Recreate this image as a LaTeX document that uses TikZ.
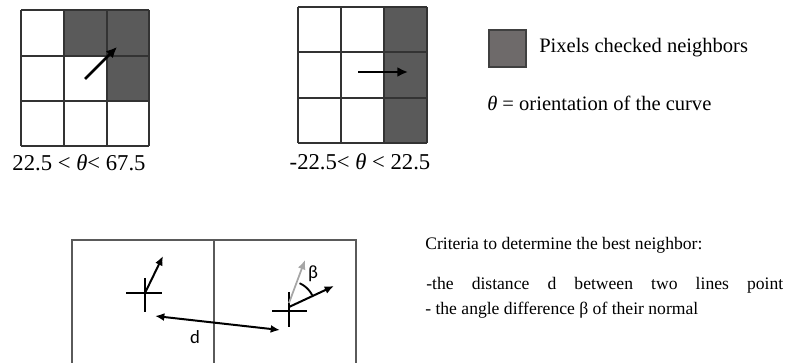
\documentclass[tikz,border=0pt]{standalone}
\usepackage{fontspec}
\setmainfont{Liberation Serif}
\newfontfamily\calib{Carlito}
\usetikzlibrary{arrows.meta}
\definecolor{cellgray}{HTML}{5A5A5A}
\definecolor{legfill}{HTML}{6E6A6A}
\definecolor{gridline}{HTML}{333333}
\definecolor{boxline}{HTML}{5A5A5A}
\tikzset{
  gridlines/.style={draw=gridline, line width=1.4pt},
  bigarrow/.style={line width=2pt, -{Latex[length=8pt,width=7.5pt]}},
  smallarrow/.style={line width=1.5pt, -{Latex[length=7pt,width=6pt]}},
  crossline/.style={line width=1.4pt},
  lbl/.style={inner sep=0pt, font=\fontsize{17}{20}\selectfont},
  legtxt/.style={inner sep=0pt, anchor=west, font=\fontsize{15.4}{18}\selectfont},
  crittxt/.style={inner sep=0pt, anchor=west, font=\fontsize{13.2}{16}\selectfont},
}
\begin{document}
\begin{tikzpicture}[x=0.75pt,y=-0.75pt]
\useasboundingbox (0,0) rectangle (785,363);
% grid 1
\fill[cellgray] (64,10) rectangle (149,56);
\fill[cellgray] (107,56) rectangle (149,101);
\foreach \x in {21,64,107,149} \draw[gridlines] (\x,10) -- (\x,146);
\foreach \y in {10,56,101,146} \draw[gridlines] (21,\y) -- (149,\y);
\coordinate (a1s) at (85,79);
\coordinate (a1e) at (117,47);
\draw[bigarrow] (a1s) -- (a1e);
\node[lbl] (lab1) at (79,163) {22.5 < \textit{θ}< 67.5};
% grid 2
\fill[cellgray] (384,7) rectangle (427,143);
\foreach \x in {298,341,384,427} \draw[gridlines] (\x,7) -- (\x,143);
\foreach \y in {7,52,98,143} \draw[gridlines] (298,\y) -- (427,\y);
\coordinate (a2s) at (358,72);
\coordinate (a2e) at (408,72);
\draw[bigarrow] (a2s) -- (a2e);
\node[lbl] (lab2) at (360,162) {-22.5< \textit{θ} < 22.5};
% legend
\node[draw=black!75, line width=1pt, fill=legfill, inner sep=0pt, minimum width=27.75pt, minimum height=27.75pt] (leg) at (507.5,48.5) {};
\node[legtxt] (legt) at (539,48) {Pixels checked neighbors};
\node[legtxt] (theta) at (487,103) {\textit{θ} = orientation of the curve};
% bottom box
\draw[draw=boxline, line width=1.1pt] (72,363) -- (72,240) -- (356,240) -- (356,363);
\draw[draw=boxline, line width=1.1pt] (214,240) -- (214,363);
% cross 1
\coordinate (c1) at (145,293);
\draw[crossline] (126,293) -- (162,293);
\draw[crossline] (145,278) -- (145,312);
\coordinate (n1) at (163,256);
\draw[smallarrow] (c1) -- (n1);
% cross 2
\coordinate (c2) at (289,309);
\draw[crossline] (272,311) -- (307,311);
\draw[crossline] (289,292) -- (289,327);
\coordinate (g2s) at (289,303);
\coordinate (g2e) at (305,260);
\draw[smallarrow, draw=black!35, line width=1.3pt] (g2s) -- (g2e);
\coordinate (b2s) at (289,307);
\coordinate (b2e) at (334,286);
\draw[smallarrow] (b2s) -- (b2e);
\draw[line width=1.4pt, domain=27:66, smooth, variable=\t] plot ({289+26*cos(\t)},{307-26*sin(\t)});
\node[inner sep=0pt, font=\calib\fontsize{14}{16}\selectfont] (beta) at (313,274) {β};
% distance
\coordinate (d1) at (155,316);
\coordinate (d2) at (280,330);
\draw[line width=1.5pt, {Latex[length=7pt,width=6pt]}-{Latex[length=7pt,width=6pt]}] (d1) -- (d2);
\node[inner sep=0pt, font=\calib\fontsize{14}{16}\selectfont] (dlab) at (195,337) {d};
% criteria text
\node[crittxt] (crit) at (425,245) {Criteria to determine the best neighbor:};
\node[crittxt] (crit1) at (426,285) {\makebox[267.75pt][s]{-the distance d between two lines point}};
\node[crittxt] (crit2) at (425,310) {- the angle difference β of their normal};
\end{tikzpicture}
\end{document}
